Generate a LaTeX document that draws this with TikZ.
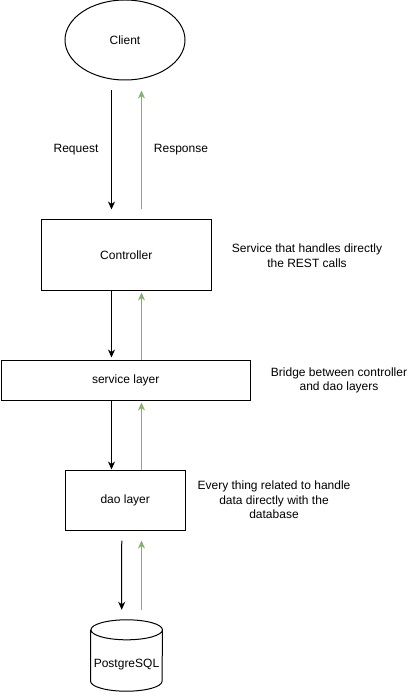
\documentclass[tikz,border=0pt]{standalone}
\usepackage{fontspec}
\setmainfont{Liberation Sans}
\usetikzlibrary{arrows.meta,calc,shapes.geometric}
\definecolor{respgreen}{HTML}{82B366}
\begin{document}
\begin{tikzpicture}[x=1pt,y=-1pt,
  every node/.style={font=\fontsize{12}{14.5}\selectfont},
  boxnode/.style={draw=black,line width=1pt,rectangle,inner sep=0pt},
  req/.style={draw=black,line width=1pt,-{Stealth[length=8pt,width=7pt,inset=2.5pt]}},
  resp/.style={draw=respgreen,line width=1pt,-{Stealth[length=8pt,width=7pt,inset=2.5pt]}},
  note/.style={align=center,inner sep=0pt}]
\useasboundingbox[fill=white] (0,0) rectangle (419,692);

\node[ellipse,draw=black,line width=1pt,minimum width=120pt,minimum height=80pt,inner sep=0pt] (client) at (125,40) {Client};
\node[boxnode,minimum width=169.5pt,minimum height=70pt] (ctrl) at (126.25,255) {Controller};
\node[boxnode,minimum width=249.5pt,minimum height=40pt] (svc) at (125.75,380) {service layer};
\node[boxnode,minimum width=120.5pt,minimum height=60pt] (dao) at (125.25,500) {dao layer};
\node[minimum width=71.5pt,minimum height=71pt,inner sep=0pt] (db) at (126.5,655.5) {};
\node[inner sep=0pt] (dblabel) at (126.5,665) {PostgreSQL};

% cylinder
\draw[line width=1pt] (db.north west) ++(0,10) coordinate (cyltl)
  -- ($(db.south west)+(0,-10)$)
  arc[start angle=180,end angle=360,x radius=35.75pt,y radius=10pt]
  -- ($(db.north east)+(0,10)$)
  arc[start angle=0,end angle=180,x radius=35.75pt,y radius=10pt]
  arc[start angle=180,end angle=360,x radius=35.75pt,y radius=10pt];

% labels
\node[note] (reqlbl) at (76,150) {Request};
\node[note] (resplbl) at (181,150) {Response};
\node[note] (ctrlnote) at (307,255.5) {Service that handles directly\\the REST calls};
\node[note] (svcnote) at (339,380.5) {Bridge between controller\\and dao layers};
\node[note] (daonote) at (274,500) {Every thing related to handle\\data directly with the\\database};

% arrows client <-> controller
\draw[req] ($(client.south)+(-13.5,10)$) -- ($(ctrl.north)+(-14.75,-10)$);
\draw[resp] ($(ctrl.north)+(15.25,-10)$) -- ($(client.south)+(16.5,10)$);
% controller <-> service
\draw[req] ($(ctrl.south)+(-14.75,0)$) -- ($(svc.north)+(-14.25,-2)$);
\draw[resp] ($(svc.north)+(15.75,0)$) -- ($(ctrl.south)+(15.25,2)$);
% service <-> dao
\draw[req] ($(svc.south)+(-14.25,0)$) -- ($(dao.north)+(-13.75,0)$);
\draw[resp] ($(dao.north)+(16.25,0)$) -- ($(svc.south)+(15.75,2)$);
% dao <-> db
\draw[req] ($(dao.south)+(-3.5,10)$) -- ($(db.north)+(-4.8,-10)$);
\draw[resp] ($(db.north)+(15,-10)$) -- ($(dao.south)+(16.25,10)$);
\end{tikzpicture}
\end{document}
